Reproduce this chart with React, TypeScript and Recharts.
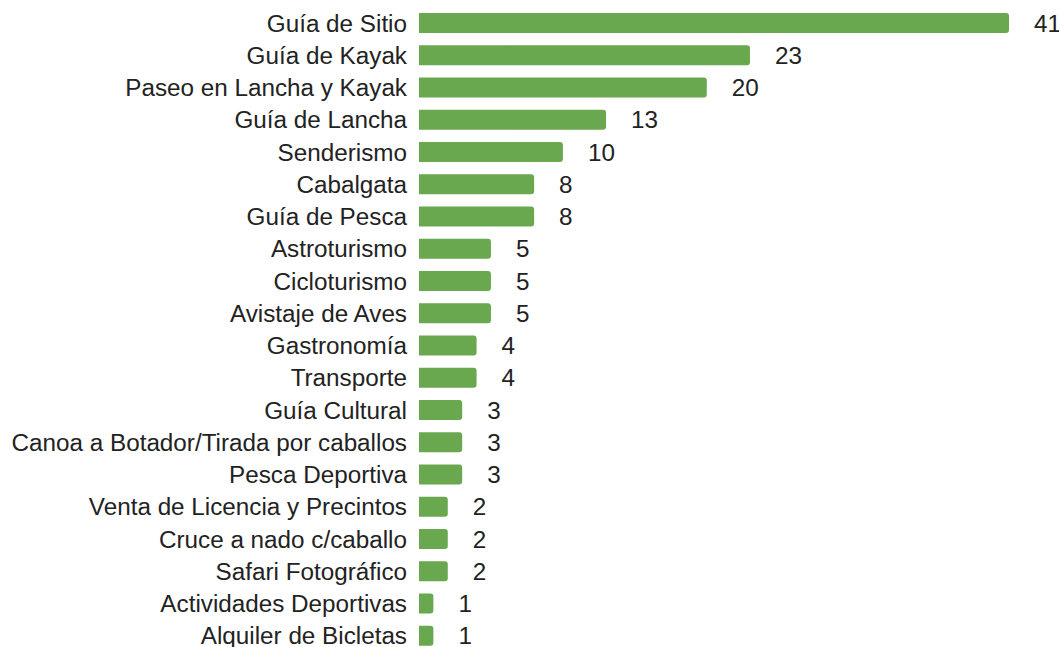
import { BarChart, Bar, XAxis, YAxis, LabelList } from "recharts"

const categories = [
  "Guía de Sitio",
  "Guía de Kayak",
  "Paseo en Lancha y Kayak",
  "Guía de Lancha",
  "Senderismo",
  "Cabalgata",
  "Guía de Pesca",
  "Astroturismo",
  "Cicloturismo",
  "Avistaje de Aves",
  "Gastronomía",
  "Transporte",
  "Guía Cultural",
  "Canoa a Botador/Tirada por caballos",
  "Pesca Deportiva",
  "Venta de Licencia y Precintos",
  "Cruce a nado c/caballo",
  "Safari Fotográfico",
  "Actividades Deportivas",
  "Alquiler de Bicletas",
]

const counts = [41, 23, 20, 13, 10, 8, 8, 5, 5, 5, 4, 4, 3, 3, 3, 2, 2, 2, 1, 1]

const FONT = "Arial, 'Liberation Sans', sans-serif"

export default function App() {
  const data = categories.map((name, i) => ({ name, value: counts[i] }))

  return (
    <div
      style={{
        position: "fixed",
        left: 0,
        top: 0,
        width: 1059,
        height: 647,
        overflow: "hidden",
        background: "#fff",
        fontFamily: FONT,
      }}
    >
      <BarChart
        width={1059}
        height={655}
        data={data}
        layout="vertical"
        margin={{ top: 7, right: 50, bottom: 3, left: 0 }}
      >
        <XAxis type="number" domain={[0, 41]} hide />
        <YAxis
          type="category"
          dataKey="name"
          width={419}
          axisLine={false}
          tickLine={false}
          tickSize={0}
          tickMargin={12}
          interval={0}
          tick={{ fill: "#222", fontSize: 24.25, fontFamily: FONT }}
        />
        <Bar dataKey="value" fill="#6aa84f" barSize={20} radius={[0, 3, 3, 0]} isAnimationActive={false}>
          <LabelList
            dataKey="value"
            position="right"
            offset={25}
            fill="#222"
            fontSize={24.25}
            fontFamily={FONT}
          />
        </Bar>
      </BarChart>
    </div>
  )
}
